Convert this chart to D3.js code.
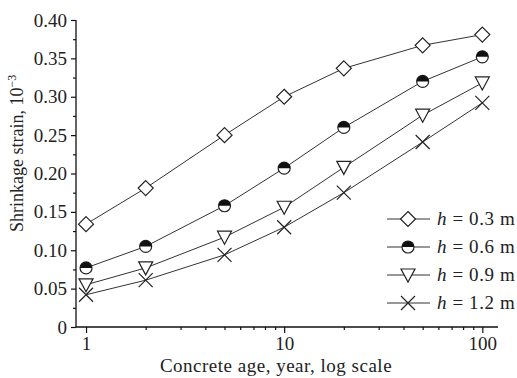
<!DOCTYPE html>
<html>
<head>
<meta charset="utf-8">
<script src="https://cdn.jsdelivr.net/npm/d3@7"></script>
<style>
  body { margin: 0; background: #fff; }
  svg text { font-family: "Liberation Serif", "Times New Roman", serif; fill: #222; }
</style>
</head>
<body>
<div class="chart"></div>
<script>
// data
let ages = [1, 2, 5, 10, 20, 50, 100];
let h03 = [0.134, 0.181, 0.250, 0.300, 0.337, 0.367, 0.381];
let h06 = [0.077, 0.105, 0.158, 0.207, 0.260, 0.320, 0.352];
let h09 = [0.055, 0.077, 0.117, 0.156, 0.208, 0.276, 0.318];
let h12 = [0.042, 0.061, 0.094, 0.130, 0.175, 0.241, 0.292];
let seriesNames = ["h = 0.3 m", "h = 0.6 m", "h = 0.9 m", "h = 1.2 m"];
let markerTypes = ["diamond", "half", "triangle", "cross"];
let xMajor = [1, 10, 100];
let yMajor = [0, 0.05, 0.10, 0.15, 0.20, 0.25, 0.30, 0.35, 0.40];

let svgWidth = 517;
let svgHeight = 378;
let margin = { top: 20, right: 19, bottom: 51, left: 76 };
let width = svgWidth - margin.left - margin.right;
let height = svgHeight - margin.top - margin.bottom;

let svg = d3.select(".chart")
  .append("svg")
  .attr("width", svgWidth)
  .attr("height", svgHeight);

let chartGroup = svg.append("g")
  .attr("transform", `translate(${margin.left}, ${margin.top})`);

let xScale = d3.scaleLog()
  .domain([0.89, 120])
  .range([0, width]);

let yScale = d3.scaleLinear()
  .domain([0, 0.40])
  .range([height, 0]);

// minor ticks
let xMinor = [];
[1, 10].forEach(p => { for (let k = 2; k <= 9; k++) xMinor.push(k * p); });
let yMinor = yMajor.slice(0, -1).map(v => v + 0.025);

let xMinorAxis = d3.axisBottom(xScale).tickValues(xMinor).tickSize(3).tickFormat("");
let yMinorAxis = d3.axisLeft(yScale).tickValues(yMinor).tickSize(3).tickFormat("");

let bottomAxis = d3.axisBottom(xScale)
  .tickValues(xMajor)
  .tickSize(6)
  .tickPadding(4)
  .tickFormat(d3.format("d"));

let leftAxis = d3.axisLeft(yScale)
  .tickValues(yMajor)
  .tickSize(5)
  .tickPadding(4)
  .tickFormat(d => d === 0 ? "0" : d3.format(".2f")(d));

chartGroup.append("g")
  .attr("transform", `translate(0, ${height})`)
  .call(xMinorAxis)
  .call(g => g.select(".domain").remove());

chartGroup.append("g")
  .call(yMinorAxis)
  .call(g => g.select(".domain").remove());

chartGroup.append("g")
  .attr("class", "xaxis")
  .attr("transform", `translate(0, ${height})`)
  .call(bottomAxis);

chartGroup.append("g")
  .attr("class", "yaxis")
  .call(leftAxis);

chartGroup.selectAll(".domain").attr("d", function() {
  return d3.select(this.parentNode).classed("xaxis") ? `M0,0H${width}` : `M0,0V${height}`;
});
chartGroup.selectAll(".tick line").attr("stroke", "#111").attr("stroke-width", 1.2);
chartGroup.selectAll(".domain").attr("stroke", "#111").attr("stroke-width", 1.3);
chartGroup.selectAll(".tick text").style("font-size", "19px").attr("fill", "#222");

// marker drawing
function drawMarker(g, type) {
  if (type === "diamond") {
    g.append("path").attr("d", "M0,-7.5L7.5,0L0,7.5L-7.5,0Z")
      .attr("fill", "#fff").attr("stroke", "#222").attr("stroke-width", 1.2);
  } else if (type === "half") {
    g.append("circle").attr("r", 6)
      .attr("fill", "#fff").attr("stroke", "#222").attr("stroke-width", 1.2);
    g.append("path").attr("d", "M-6,0A6,6 0 0 1 6,0Z").attr("fill", "#111");
  } else if (type === "triangle") {
    g.append("path").attr("d", "M-7,-6L7,-6L0,7Z")
      .attr("fill", "#fff").attr("stroke", "#222").attr("stroke-width", 1.2);
  } else {
    g.append("path").attr("d", "M-7,-7L7,7M-7,7L7,-7")
      .attr("fill", "none").attr("stroke", "#222").attr("stroke-width", 1.2);
  }
}

let allSeries = [h03, h06, h09, h12];

let line = d3.line()
  .x(d => xScale(d.age))
  .y(d => yScale(d.value));

allSeries.forEach((vals, i) => {
  let pts = ages.map((a, j) => ({ age: a, value: vals[j] }));
  chartGroup.append("path")
    .datum(pts)
    .attr("d", line)
    .attr("fill", "none")
    .attr("stroke", "#333")
    .attr("stroke-width", 1);

  chartGroup.selectAll(null)
    .data(pts)
    .enter()
    .append("g")
    .attr("transform", d => `translate(${xScale(d.age)}, ${yScale(d.value)})`)
    .each(function() { drawMarker(d3.select(this), markerTypes[i]); });
});

// legend
let legend = svg.append("g").attr("transform", "translate(387, 219)");
seriesNames.forEach((name, i) => {
  let row = legend.append("g").attr("transform", `translate(0, ${i * 28})`);
  row.append("line").attr("x1", 0).attr("x2", 43).attr("y1", 0).attr("y2", 0)
    .attr("stroke", "#333").attr("stroke-width", 1);
  let m = row.append("g").attr("transform", "translate(21, 0)");
  drawMarker(m, markerTypes[i]);
  let t = row.append("text").attr("x", 50).attr("y", 6)
    .style("font-size", "19px").style("letter-spacing", "0.6px");
  t.append("tspan").style("font-style", "italic").text("h");
  t.append("tspan").text(name.slice(1));
});

// axis labels
svg.append("text")
  .attr("transform", "translate(276, 372)")
  .attr("text-anchor", "middle")
  .style("font-size", "19px")
  .style("letter-spacing", "0.5px")
  .text("Concrete age, year, log scale");

let yLabel = svg.append("text")
  .attr("transform", "translate(23, 232) rotate(-90)")
  .style("font-size", "18px");
yLabel.append("tspan").text("Shrinkage strain, 10");
yLabel.append("tspan").attr("dy", -7).style("font-size", "12px").text("\u22123");
</script>
</body>
</html>
